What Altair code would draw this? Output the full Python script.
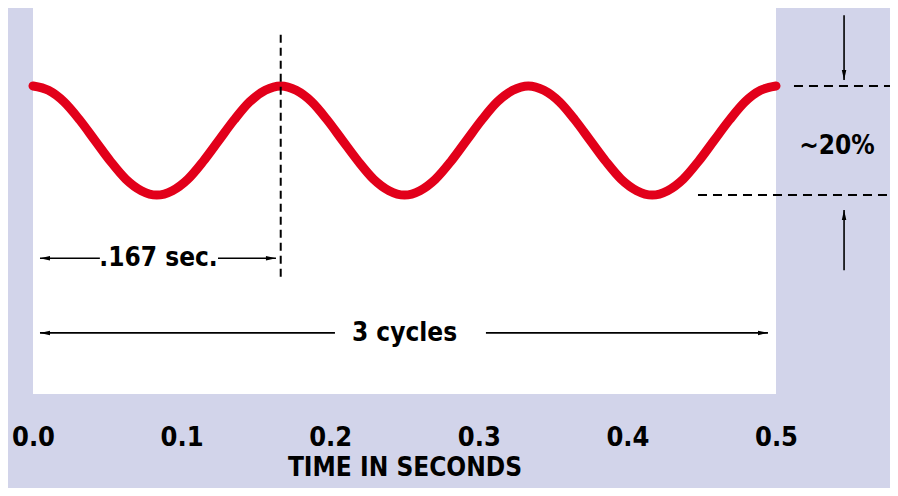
import altair as alt
import pandas as pd

# Waveform: 3 cycles in 0.5 s, peak = 100 %, trough ~ 80 %
times = [0.0, 0.0104, 0.0208, 0.0313, 0.0417, 0.0521, 0.0625, 0.0729,
         0.0833, 0.0938, 0.1042, 0.1146, 0.125, 0.1354, 0.1458, 0.1563,
         0.1667, 0.1771, 0.1875, 0.1979, 0.2083, 0.2188, 0.2292, 0.2396,
         0.25, 0.2604, 0.2708, 0.2813, 0.2917, 0.3021, 0.3125, 0.3229,
         0.3333, 0.3438, 0.3542, 0.3646, 0.375, 0.3854, 0.3958, 0.4063,
         0.4167, 0.4271, 0.4375, 0.4479, 0.4583, 0.4688, 0.4792, 0.4896, 0.5]
level = [100, 99.2, 97.1, 93.8, 90, 86.2, 82.9, 80.8,
         80, 80.8, 82.9, 86.2, 90, 93.8, 97.1, 99.2,
         100, 99.2, 97.1, 93.8, 90, 86.2, 82.9, 80.8,
         80, 80.8, 82.9, 86.2, 90, 93.8, 97.1, 99.2,
         100, 99.2, 97.1, 93.8, 90, 86.2, 82.9, 80.8,
         80, 80.8, 82.9, 86.2, 90, 93.8, 97.1, 99.2, 100]
tick_values = [0.0, 0.1, 0.2, 0.3, 0.4, 0.5]

# Annotations
period_t = 0.1667
label_text = [".167 sec.", "3 cycles", "~20%"]
label_t = [0.0845, 0.25, 0.541]
label_y = [68.4, 54.7, 89.0]

arrow_x1 = [0.0047, 0.1245, 0.0047, 0.3048]
arrow_x2 = [0.045, 0.1635, 0.2032, 0.4946]
arrow_y = [68.4, 68.4, 54.7, 54.7]

RED = "#e2001a"
BG = "#d2d4ea"
FONT = "DejaVu Sans Condensed"

LEFT = "M 0 0 L 2 -0.45 L 2 0.45 Z"
RIGHT = "M 0 0 L -2 -0.45 L -2 0.45 Z"
DOWN = "M 0 0 L -0.45 -2 L 0.45 -2 Z"
UP = "M 0 0 L -0.45 2 L 0.45 2 Z"

xs = alt.Scale(domain=[0, 0.5], nice=False, zero=False)
ys = alt.Scale(domain=[43.49, 114.31], nice=False, zero=False)

wave = pd.DataFrame({"t": times, "v": level})

line = alt.Chart(wave).mark_line(
    color=RED, strokeWidth=9, strokeCap="round", interpolate="monotone"
).encode(
    x=alt.X("t:Q", scale=xs, axis=alt.Axis(
        values=tick_values, format=".1f", title="TIME IN SECONDS",
        domain=False, ticks=False, grid=False, labelFlush=False,
        labelFont=FONT, labelFontSize=27,
        labelFontWeight="bold", labelColor="black", labelPadding=30,
        titleFont=FONT, titleFontSize=26, titleFontWeight="bold",
        titleColor="black", titlePadding=4)),
    y=alt.Y("v:Q", scale=ys, axis=None),
)

vline = alt.Chart(pd.DataFrame({"t": [period_t], "y1": [109.4], "y2": [64.4]})).mark_rule(
    color="black", strokeWidth=2, strokeDash=[8, 5]
).encode(x=alt.X("t:Q", scale=xs), y=alt.Y("y1:Q", scale=ys), y2="y2:Q")

hl = alt.Chart(pd.DataFrame({"x1": [0.5121, 0.4475], "x2": [0.5787, 0.5787], "y": [100, 80]})).mark_rule(
    color="black", strokeWidth=2, strokeDash=[9, 6]
).encode(x=alt.X("x1:Q", scale=xs), x2="x2:Q", y=alt.Y("y:Q", scale=ys))

# horizontal arrows (shafts)
segs = pd.DataFrame({"x1": arrow_x1, "x2": arrow_x2, "y": arrow_y})
shafts = alt.Chart(segs).mark_rule(
    color="black", strokeWidth=1.6
).encode(x=alt.X("x1:Q", scale=xs), x2="x2:Q", y=alt.Y("y:Q", scale=ys))

# vertical arrows (shafts)
vshafts = alt.Chart(pd.DataFrame({"t": [0.5458, 0.5458], "y1": [113.0, 66.2], "y2": [101.1, 77.25]})).mark_rule(
    color="black", strokeWidth=1.6
).encode(x=alt.X("t:Q", scale=xs), y=alt.Y("y1:Q", scale=ys), y2="y2:Q")

heads = pd.DataFrame({
    "t": [0.0047, 0.1635, 0.0047, 0.4946, 0.5458, 0.5458],
    "y": [68.4, 68.4, 54.7, 54.7, 101.1, 77.25],
    "shape": [LEFT, RIGHT, LEFT, RIGHT, DOWN, UP],
})
arrowheads = alt.Chart(heads).mark_point(
    filled=True, color="black", opacity=1, size=100, strokeWidth=0
).encode(
    x=alt.X("t:Q", scale=xs), y=alt.Y("y:Q", scale=ys),
    shape=alt.Shape("shape:N", scale=None),
)

labels = alt.Chart(pd.DataFrame({"t": label_t, "y": label_y, "txt": label_text})).mark_text(
    font=FONT, fontSize=26, fontWeight="bold", color="black", align="center", baseline="middle"
).encode(x=alt.X("t:Q", scale=xs), y=alt.Y("y:Q", scale=ys), text="txt:N")

chart = alt.layer(line, vline, hl, shafts, vshafts, arrowheads, labels).properties(
    width=743, height=386,
    autosize=alt.AutoSizeParams(type="none"),
    padding={"left": 25, "top": 0, "right": 114, "bottom": 94},
    background=BG,
).configure_view(stroke=None, fill="white")

chart.save("out.html", embed_options={"renderer": "svg", "actions": False})
